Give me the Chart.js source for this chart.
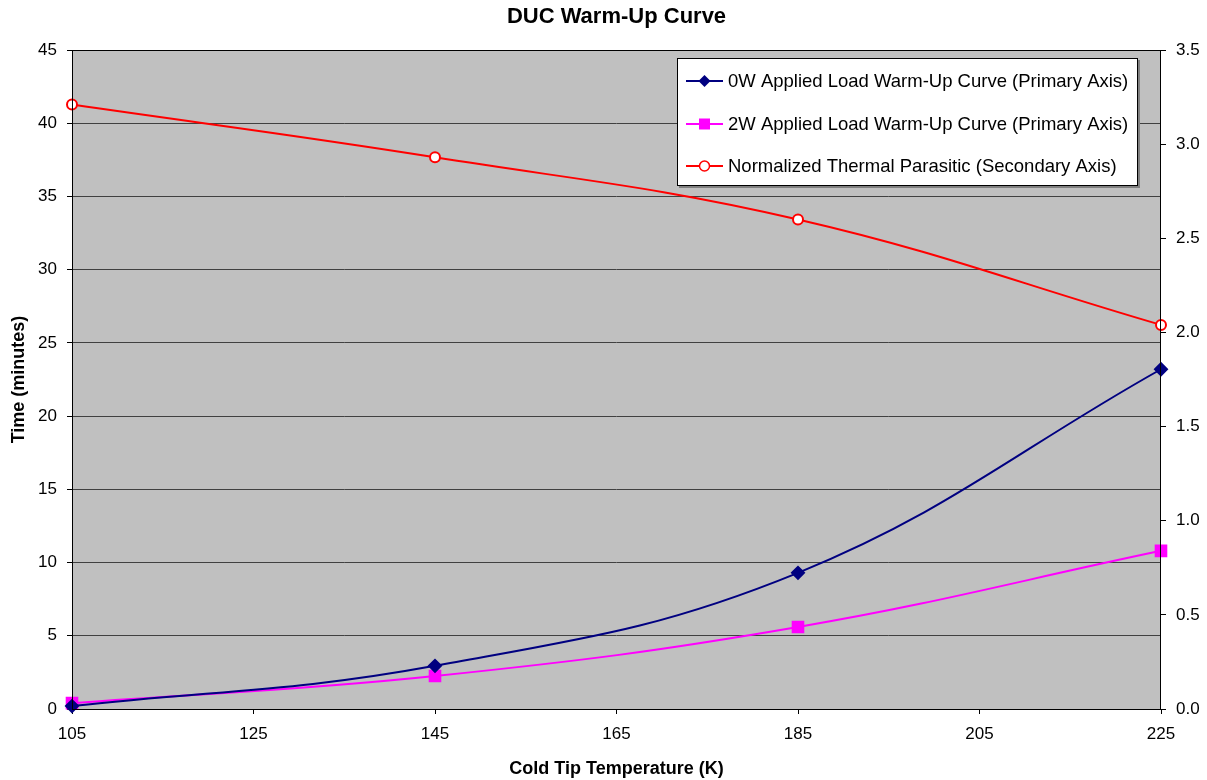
<!DOCTYPE html>
<html>
<head>
<meta charset="utf-8">
<title>DUC Warm-Up Curve</title>
<script src="https://cdn.jsdelivr.net/npm/chart.js@4/dist/chart.umd.min.js"></script>
<style>
  html, body { margin: 0; padding: 0; background: #fff; }
  #wrap { width: 1207px; height: 780px; position: relative; }
</style>
</head>
<body>
<div id="wrap"><canvas id="myChart" width="1207" height="780"></canvas></div>
<script>
// values
const temps = [105, 145, 185, 225];
const warmup0W = [0.2, 2.95, 9.3, 23.2];
const warmup2W = [0.4, 2.25, 5.6, 10.8];
const parasitic = [3.21, 2.93, 2.60, 2.04];

const seriesLabels = [
  "0W Applied Load Warm-Up Curve (Primary Axis)",
  "2W Applied Load Warm-Up Curve (Primary Axis)",
  "Normalized Thermal Parasitic (Secondary Axis)"
];

const FONT = "'Liberation Sans', Arial, sans-serif";

function toPoints(ys) {
  let pts = [];
  for (let i = 0; i < temps.length; i++) {
    pts.push({ x: temps[i], y: ys[i] });
  }
  return pts;
}

// plot background + title + legend box
const excelLook = {
  id: 'excelLook',
  beforeDraw(chart) {
    const { ctx, chartArea: a } = chart;
    ctx.save();
    ctx.fillStyle = '#c0c0c0';
    ctx.fillRect(a.left, a.top, a.right - a.left, a.bottom - a.top);
    ctx.restore();
  },
  afterDatasetsDraw(chart) {
    const { ctx, chartArea: a } = chart;
    ctx.save();
    ctx.strokeStyle = '#000';
    ctx.lineWidth = 1;
    ctx.strokeRect(a.left + 0.5, a.top + 0.5, a.right - a.left - 1, a.bottom - a.top);
    ctx.restore();
  },
  afterDraw(chart) {
    const { ctx, chartArea: a } = chart;
    ctx.save();
    // title
    ctx.fillStyle = '#000';
    ctx.font = 'bold 22px ' + FONT;
    ctx.textAlign = 'center';
    ctx.textBaseline = 'middle';
    ctx.fillText('DUC Warm-Up Curve', (a.left + a.right) / 2, 17);

    // legend
    const bx = 677, by = 58, bw = 461, bh = 128;
    ctx.fillStyle = '#808080';
    ctx.fillRect(bx + 2, by + 2, bw, bh);
    ctx.fillStyle = '#fff';
    ctx.fillRect(bx, by, bw, bh);
    ctx.strokeStyle = '#000';
    ctx.lineWidth = 1;
    ctx.strokeRect(bx + 0.5, by + 0.5, bw - 1, bh - 1);

    const rows = [81, 124, 166];
    chart.data.datasets.forEach((ds, i) => {
      const y = rows[i];
      ctx.strokeStyle = ds.borderColor;
      ctx.lineWidth = 2;
      ctx.beginPath();
      ctx.moveTo(686, y);
      ctx.lineTo(723, y);
      ctx.stroke();
      const cx = 704.5;
      ctx.lineWidth = 1.5;
      if (ds.pointStyle === 'rectRot') {
        ctx.fillStyle = ds.pointBackgroundColor;
        ctx.beginPath();
        ctx.moveTo(cx, y - 6); ctx.lineTo(cx + 6, y); ctx.lineTo(cx, y + 6); ctx.lineTo(cx - 6, y);
        ctx.closePath();
        ctx.fill();
      } else if (ds.pointStyle === 'rect') {
        ctx.fillStyle = ds.pointBackgroundColor;
        ctx.fillRect(cx - 5.5, y - 5.5, 11, 11);
      } else {
        ctx.fillStyle = '#fff';
        ctx.strokeStyle = ds.pointBorderColor;
        ctx.beginPath();
        ctx.arc(cx, y, 5, 0, Math.PI * 2);
        ctx.fill();
        ctx.stroke();
      }
      ctx.fillStyle = '#000';
      ctx.font = '18.5px ' + FONT;
      ctx.textAlign = 'left';
      ctx.textBaseline = 'middle';
      ctx.fillText(ds.label, 728, y + 1);
    });
    ctx.restore();
  }
};

const data = {
  datasets: [
    {
      label: seriesLabels[0],
      data: toPoints(warmup0W),
      yAxisID: 'y',
      borderColor: '#000080',
      pointBackgroundColor: '#000080',
      pointBorderColor: '#000080',
      pointStyle: 'rectRot',
      pointRadius: 6,
      borderWidth: 2,
      tension: 0.4
    },
    {
      label: seriesLabels[1],
      data: toPoints(warmup2W),
      yAxisID: 'y',
      borderColor: '#ff00ff',
      pointBackgroundColor: '#ff00ff',
      pointBorderColor: '#ff00ff',
      pointStyle: 'rect',
      pointRadius: 7.5,
      borderWidth: 2,
      tension: 0.4
    },
    {
      label: seriesLabels[2],
      data: toPoints(parasitic),
      yAxisID: 'y2',
      borderColor: '#ff0000',
      pointBackgroundColor: '#ffffff',
      pointBorderColor: '#ff0000',
      pointBorderWidth: 2,
      pointStyle: 'circle',
      pointRadius: 5,
      borderWidth: 2,
      tension: 0.4
    }
  ]
};

const config = {
  type: 'line',
  data: data,
  options: {
    responsive: false,
    animation: false,
    clip: false,
    layout: { padding: { top: 50, left: 0, right: 0, bottom: 0 } },
    plugins: {
      legend: { display: false },
      title: { display: false },
      tooltip: { enabled: false }
    },
    scales: {
      x: {
        type: 'linear',
        min: 105,
        max: 225,
        ticks: { stepSize: 20, color: '#000', font: { family: FONT, size: 17 }, padding: 10 },
        grid: { drawOnChartArea: false, drawTicks: true, tickLength: 5, tickColor: '#000' },
        border: { display: false },
        title: { display: true, text: 'Cold Tip Temperature (K)', color: '#000',
                 font: { family: FONT, size: 18, weight: 'bold' }, padding: { top: 8, bottom: 0 } },
        afterFit(scale) { scale.height = 71; }
      },
      y: {
        position: 'left',
        min: 0,
        max: 45,
        ticks: { stepSize: 5, color: '#000', font: { family: FONT, size: 17 }, padding: 10 },
        grid: { color: '#404040', lineWidth: 1, drawTicks: true, tickLength: 5, tickColor: '#000' },
        border: { display: false },
        title: { display: true, text: 'Time (minutes)', color: '#000',
                 font: { family: FONT, size: 18, weight: 'bold' }, padding: { top: 8, bottom: 0 } },
        afterFit(scale) { scale.width = 72; }
      },
      y2: {
        position: 'right',
        min: 0,
        max: 3.5,
        ticks: { stepSize: 0.5, color: '#000', font: { family: FONT, size: 17 }, padding: 10,
                 callback: v => v.toFixed(1) },
        grid: { drawOnChartArea: false, drawTicks: true, tickLength: 5, tickColor: '#000' },
        border: { display: false },
        afterFit(scale) { scale.width = 46; }
      }
    }
  },
  plugins: [excelLook]
};

const myChart = new Chart(document.getElementById('myChart'), config);
</script>
</body>
</html>
